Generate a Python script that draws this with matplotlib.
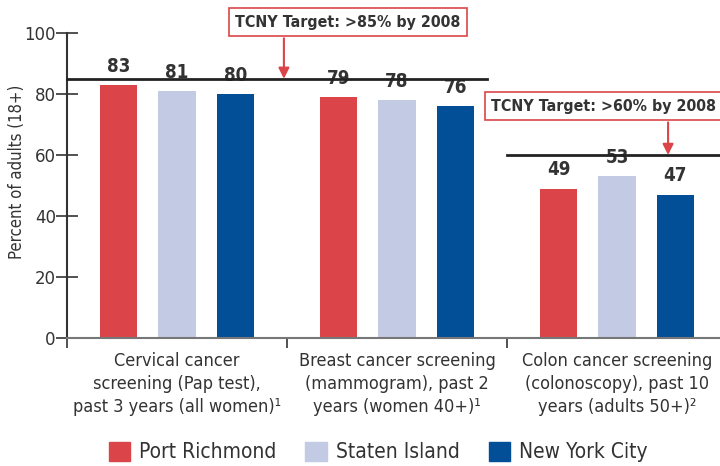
import numpy as np
import matplotlib.pyplot as plt
from matplotlib.patches import Patch

categories = ["Cervical cancer\nscreening (Pap test),\npast 3 years (all women)\u00b9",
              "Breast cancer screening\n(mammogram), past 2\nyears (women 40+)\u00b9",
              "Colon cancer screening\n(colonoscopy), past 10\nyears (adults 50+)\u00b2"]
series = ["Port Richmond", "Staten Island", "New York City"]
port_richmond = [83, 79, 49]
staten_island = [81, 78, 53]
new_york_city = [80, 76, 47]
targets = [85, 60]
target_labels = ["TCNY Target: >85% by 2008", "TCNY Target: >60% by 2008"]

colors = ["#DB4549", "#C3CAE3", "#024F98"]
text_col = "#333333"
red = "#DB4549"

plt.rcParams['font.family'] = ['DejaVu Sans']
plt.rcParams['font.stretch'] = 'condensed'

fig = plt.figure(figsize=(7.2, 4.66), dpi=100)
ax = fig.add_axes([0.093, 0.275, 0.907, 0.654])

x = np.arange(len(categories))
width = 0.17
offset = 0.265
for i, vals in enumerate([port_richmond, staten_island, new_york_city]):
    pos = x + (i - 1) * offset
    ax.bar(pos, vals, width, color=colors[i], zorder=2)
    for p, v in zip(pos, vals):
        ax.text(p, v + 3.0, str(v), ha='center', va='bottom', fontsize=13.5,
                fontweight='bold', color=text_col)

# target lines
ax.plot([-0.5, 1.41], [targets[0], targets[0]], color='#222222', lw=2, zorder=3,
        clip_on=False)
ax.plot([1.5, 2.5], [targets[1], targets[1]], color='#222222', lw=2, zorder=3,
        clip_on=False)

# target boxes
box = dict(boxstyle='square,pad=0.4', fc='white', ec=red, lw=1.2)
ax.text(0.777, 103.6, target_labels[0], ha='center', va='center', fontsize=11.4,
        fontweight='bold', color=text_col, bbox=box, clip_on=False)
ax.text(1.94, 76.0, target_labels[1], ha='center', va='center', fontsize=11.4,
        fontweight='bold', color=text_col, bbox=box, clip_on=False)

# arrows
arrow = dict(arrowstyle='-|>', color=red, lw=1.5, mutation_scale=16,
             shrinkA=0, shrinkB=0)
ax.annotate('', xy=(0.486, targets[0]), xytext=(0.486, 98.3),
            arrowprops=arrow, annotation_clip=False)
ax.annotate('', xy=(2.232, targets[1]), xytext=(2.232, 70.7),
            arrowprops=arrow, annotation_clip=False)

ax.set_xlim(-0.5, 2.468)
ax.set_ylim(0, 100)
ax.set_yticks([0, 20, 40, 60, 80, 100])
ax.tick_params(axis='y', direction='inout', length=16, width=1.2,
               colors=text_col, labelsize=13.2, pad=0)
ax.set_xticks(x)
ax.set_xticklabels(categories, fontsize=13, color=text_col, linespacing=1.35)
ax.tick_params(axis='x', length=0, pad=10)
ax.set_xticks([-0.5, 0.5, 1.5], minor=True)
ax.tick_params(axis='x', which='minor', direction='out', length=7, width=1.2,
               color=text_col)
ax.set_ylabel("Percent of adults (18+)", fontsize=12, color=text_col)
ax.yaxis.set_label_coords(-0.063, 0.544)

for s in ['top', 'right']:
    ax.spines[s].set_visible(False)
ax.spines['left'].set_color('#333333')
ax.spines['left'].set_linewidth(1.5)
ax.spines['bottom'].set_color('#777777')
ax.spines['bottom'].set_linewidth(1.5)

handles = [Patch(color=c) for c in colors]
leg = fig.legend(handles, series, loc='center', bbox_to_anchor=(0.525, 0.03),
                 ncol=3, frameon=False, fontsize=15, handlelength=1.05,
                 handleheight=1.05, columnspacing=1.4, handletextpad=0.4)
for t in leg.get_texts():
    t.set_color(text_col)

fig.savefig("out.png", dpi=100)
